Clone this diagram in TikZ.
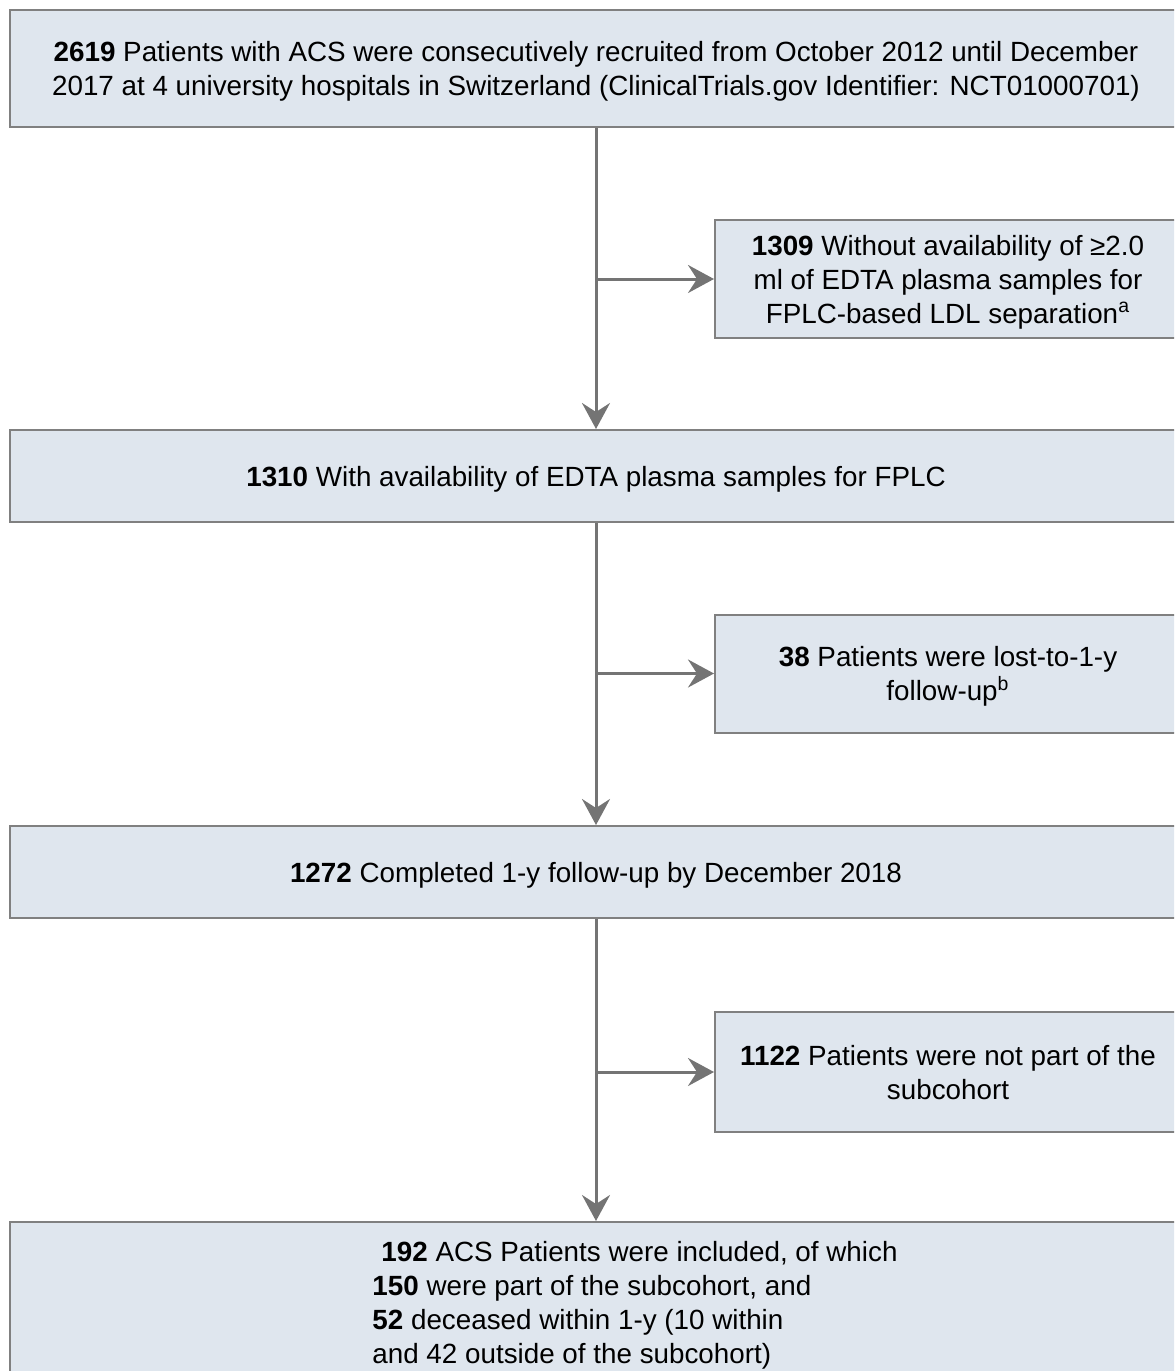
\documentclass[tikz,border=0pt]{standalone}
\usepackage{fontspec}
\setmainfont{Liberation Sans}
\usepackage{tikz}
\usetikzlibrary{arrows.meta}
\usepackage{xcolor}
\definecolor{boxfill}{RGB}{223,230,238}
\definecolor{boxgray}{RGB}{128,128,128}
\definecolor{arrowgray}{RGB}{116,116,116}

\begin{document}
\begin{tikzpicture}[x=0.5pt, y=-0.5pt,
  every node/.style = {font=\fontsize{13.9}{17}\selectfont, align=center},
  box/.style = {shape=rectangle, draw=boxgray, line width=1pt,
    fill=boxfill, inner sep=0pt, text depth=-3pt},
  mainbox/.style = {box, minimum width=586pt},
  sidebox/.style = {box, minimum width=233pt, minimum height=59pt},
  arr/.style = {draw=arrowgray, line width=1.5pt,
    -{Stealth[length=13pt, width=14pt, inset=4.5pt]}}]
  \useasboundingbox (0,0) rectangle (1174,1371);
  \clip (0,0) rectangle (1174,1371);
  \node[mainbox, minimum height=58.5pt, text depth=-5.3pt] (recruit) at (596,68.5)
    {\textbf{2619} Patients with ACS were consecutively recruited from October 2012 until December\\
     2017 at 4 university hospitals in Switzerland (ClinicalTrials.gov Identifier: NCT01000701)};
  \node[sidebox] (noplasma) at (948,279)
    {\textbf{1309} Without availability of ≥2.0\\
     ml of EDTA plasma samples for\\
     FPLC-based LDL separation\textsuperscript{a}};
  \node[mainbox, minimum height=46pt] (plasma) at (596,476)
    {\textbf{1310} With availability of EDTA plasma samples for FPLC};
  \node[sidebox] (lost) at (948,673.5)
    {\textbf{38} Patients were lost-to-1-y\\
     follow-up\textsuperscript{b}};
  \node[mainbox, minimum height=46pt] (followup) at (596,872)
    {\textbf{1272} Completed 1-y follow-up by December 2018};
  \node[sidebox, minimum height=60pt] (notsub) at (948,1072)
    {\textbf{1122} Patients were not part of the\\
     subcohort};
  \node[mainbox, minimum height=90pt, anchor=north] (included) at (596,1221) {};
  \node[anchor=north west, align=left, inner sep=0pt] (includedtxt) at (372,1240.5)
    {\hspace*{4.5pt}\textbf{192} ACS Patients were included, of which\\
     \textbf{150} were part of the subcohort, and\\
     \textbf{52} deceased within 1-y (10 within\\
     and 42 outside of the subcohort)};

  \draw[arr] (recruit) -- (plasma);
  \draw[arr] (plasma) -- (followup);
  \draw[arr] (followup) -- (included);
  \draw[arr] (recruit.south |- noplasma.west) -- (noplasma.west);
  \draw[arr] (plasma.south |- lost.west) -- (lost.west);
  \draw[arr] (followup.south |- notsub.west) -- (notsub.west);
\end{tikzpicture}
\end{document}
